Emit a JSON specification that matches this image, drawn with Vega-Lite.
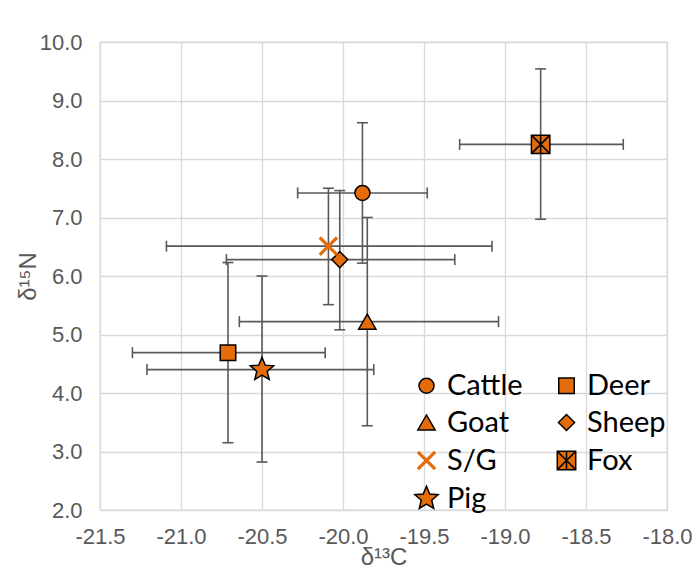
{
  "$schema": "https://vega.github.io/schema/vega-lite/v6.json",
  "autosize": {"type": "none"},
  "padding": {"left": 100, "top": 42, "right": 33, "bottom": 61},
  "width": 567,
  "height": 468,
  "background": "white",
  "data": {
    "values": [
      {"species": "Cattle", "x": -19.88, "y": 7.42, "xlo": -20.28, "xhi": -19.48, "ylo": 6.22, "yhi": 8.62},
      {"species": "Deer", "x": -20.71, "y": 4.69, "xlo": -21.30, "xhi": -20.11, "ylo": 3.15, "yhi": 6.23},
      {"species": "Goat", "x": -19.85, "y": 5.22, "xlo": -20.64, "xhi": -19.04, "ylo": 3.44, "yhi": 7.00},
      {"species": "Sheep", "x": -20.02, "y": 6.28, "xlo": -20.72, "xhi": -19.31, "ylo": 5.08, "yhi": 7.46},
      {"species": "S/G", "x": -20.09, "y": 6.51, "xlo": -21.09, "xhi": -19.08, "ylo": 5.51, "yhi": 7.50},
      {"species": "Fox", "x": -18.78, "y": 8.25, "xlo": -19.28, "xhi": -18.27, "ylo": 6.97, "yhi": 9.54},
      {"species": "Pig", "x": -20.50, "y": 4.40, "xlo": -21.21, "xhi": -19.81, "ylo": 2.82, "yhi": 6.00}
    ]
  },
  "layer": [
    {
      "mark": {"type": "rule", "color": "#595959", "strokeWidth": 1.6},
      "encoding": {
        "x": {"field": "xlo", "type": "quantitative", "title": "δ¹³C", "scale": {"domain": [-21.5, -18.0], "nice": false, "zero": false},
              "axis": {"values": [-21.5, -21, -20.5, -20, -19.5, -19, -18.5, -18], "format": ".1f"}},
        "x2": {"field": "xhi"},
        "y": {"field": "y", "type": "quantitative", "title": "δ¹⁵N", "scale": {"domain": [2, 10], "nice": false, "zero": false},
              "axis": {"values": [2, 3, 4, 5, 6, 7, 8, 9, 10], "format": ".1f"}}
      }
    },
    {
      "mark": {"type": "tick", "orient": "vertical", "color": "#595959", "size": 11, "thickness": 1.6, "opacity": 1},
      "encoding": {
        "x": {"field": "xlo", "type": "quantitative", "title": "δ¹³C", "axis": {"values": [-21.5, -21, -20.5, -20, -19.5, -19, -18.5, -18], "format": ".1f"}},
        "y": {"field": "y", "type": "quantitative", "title": "δ¹⁵N", "axis": {"values": [2, 3, 4, 5, 6, 7, 8, 9, 10], "format": ".1f"}}
      }
    },
    {
      "mark": {"type": "tick", "orient": "vertical", "color": "#595959", "size": 11, "thickness": 1.6, "opacity": 1},
      "encoding": {
        "x": {"field": "xhi", "type": "quantitative", "title": "δ¹³C", "axis": {"values": [-21.5, -21, -20.5, -20, -19.5, -19, -18.5, -18], "format": ".1f"}},
        "y": {"field": "y", "type": "quantitative", "title": "δ¹⁵N", "axis": {"values": [2, 3, 4, 5, 6, 7, 8, 9, 10], "format": ".1f"}}
      }
    },
    {
      "mark": {"type": "rule", "color": "#595959", "strokeWidth": 1.6},
      "encoding": {
        "x": {"field": "x", "type": "quantitative", "title": "δ¹³C", "axis": {"values": [-21.5, -21, -20.5, -20, -19.5, -19, -18.5, -18], "format": ".1f"}},
        "y": {"field": "ylo", "type": "quantitative", "title": "δ¹⁵N", "axis": {"values": [2, 3, 4, 5, 6, 7, 8, 9, 10], "format": ".1f"}},
        "y2": {"field": "yhi"}
      }
    },
    {
      "mark": {"type": "tick", "orient": "horizontal", "color": "#595959", "size": 11, "thickness": 1.6, "opacity": 1},
      "encoding": {
        "x": {"field": "x", "type": "quantitative", "title": "δ¹³C", "axis": {"values": [-21.5, -21, -20.5, -20, -19.5, -19, -18.5, -18], "format": ".1f"}},
        "y": {"field": "ylo", "type": "quantitative", "title": "δ¹⁵N", "axis": {"values": [2, 3, 4, 5, 6, 7, 8, 9, 10], "format": ".1f"}}
      }
    },
    {
      "mark": {"type": "tick", "orient": "horizontal", "color": "#595959", "size": 11, "thickness": 1.6, "opacity": 1},
      "encoding": {
        "x": {"field": "x", "type": "quantitative", "title": "δ¹³C", "axis": {"values": [-21.5, -21, -20.5, -20, -19.5, -19, -18.5, -18], "format": ".1f"}},
        "y": {"field": "yhi", "type": "quantitative", "title": "δ¹⁵N", "axis": {"values": [2, 3, 4, 5, 6, 7, 8, 9, 10], "format": ".1f"}}
      }
    },
    {
      "mark": {"type": "point", "filled": true, "opacity": 1, "fill": "#E46C0A"},
      "encoding": {
        "x": {"field": "x", "type": "quantitative", "title": "δ¹³C", "axis": {"values": [-21.5, -21, -20.5, -20, -19.5, -19, -18.5, -18], "format": ".1f"}},
        "y": {"field": "y", "type": "quantitative", "title": "δ¹⁵N", "axis": {"values": [2, 3, 4, 5, 6, 7, 8, 9, 10], "format": ".1f"}},
        "shape": {
          "field": "species", "type": "nominal",
          "scale": {
            "domain": ["Cattle", "Goat", "S/G", "Pig", "Deer", "Sheep", "Fox"],
            "range": ["circle", "triangle-up", "M-1,-1L1,1M1,-1L-1,1", "M0,-1L0.265,-0.364L0.951,-0.309L0.428,0.139L0.588,0.809L0,0.45L-0.588,0.809L-0.428,0.139L-0.951,-0.309L-0.265,-0.364Z", "square", "diamond", "M-1,-1L1,-1L1,1L-1,1ZM-1,-1L1,1M1,-1L-1,1M0,-1L0,1"]
          },
          "legend": {"title": null}
        },
        "stroke": {
          "field": "species", "type": "nominal",
          "scale": {
            "domain": ["Cattle", "Goat", "S/G", "Pig", "Deer", "Sheep", "Fox"],
            "range": ["#000000", "#000000", "#E46C0A", "#000000", "#000000", "#000000", "#000000"]
          },
          "legend": {"title": null}
        },
        "strokeWidth": {
          "field": "species", "type": "nominal",
          "scale": {
            "type": "ordinal",
            "domain": ["Cattle", "Goat", "S/G", "Pig", "Deer", "Sheep", "Fox"],
            "range": [1.5, 1.5, 3.2, 1.5, 1.5, 1.5, 1.5]
          },
          "legend": {"title": null}
        },
        "size": {
          "field": "species", "type": "nominal",
          "scale": {
            "type": "ordinal",
            "domain": ["Cattle", "Goat", "S/G", "Pig", "Deer", "Sheep", "Fox"],
            "range": [225, 300, 300, 600, 240, 260, 340]
          },
          "legend": {"title": null}
        }
      }
    }
  ],
  "config": {
    "locale": {"number": {"decimal": ".", "thousands": ",", "grouping": [3], "currency": ["$", ""], "minus": "-"}},
    "view": {"stroke": "#D9D9D9", "strokeWidth": 1.3},
    "axis": {
      "domain": false,
      "ticks": false,
      "tickSize": 0,
      "grid": true,
      "gridColor": "#D9D9D9",
      "gridWidth": 1.3,
      "labelFlush": false,
      "labelOverlap": false,
      "labelFont": "Liberation Sans",
      "labelFontSize": 22,
      "labelColor": "#595959",
      "titleFont": "Liberation Sans",
      "titleFontSize": 24,
      "titleFontWeight": "normal",
      "titleColor": "#595959"
    },
    "axisX": {"labelPadding": 16, "titlePadding": -2},
    "axisY": {"labelPadding": 18, "titlePadding": -1},
    "legend": {
      "orient": "none",
      "legendX": 312,
      "legendY": 329,
      "columns": 2,
      "columnPadding": 29,
      "rowPadding": 7,
      "padding": 0,
      "labelFont": "Lato",
      "labelFontSize": 29,
      "labelColor": "#000000",
      "labelOffset": 6,
      "symbolFillColor": "#E46C0A",
      "symbolOpacity": 1,
      "labelLimit": 300
    }
  }
}
